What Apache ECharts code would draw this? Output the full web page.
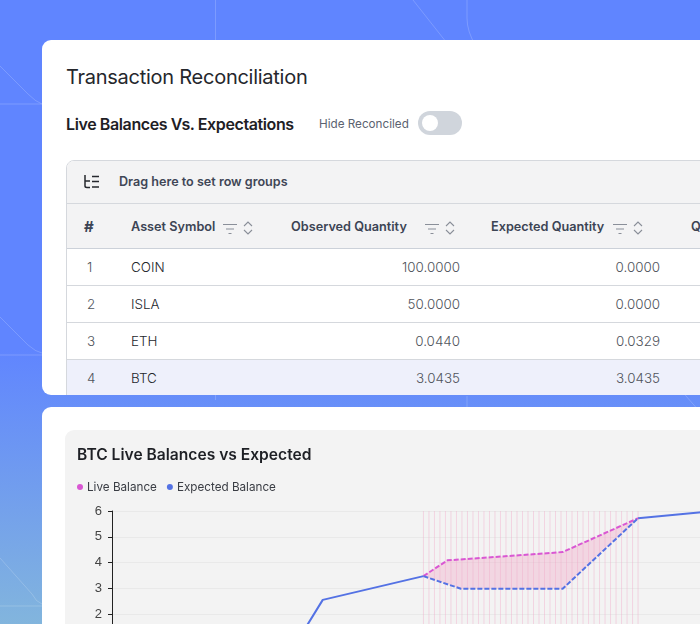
<!DOCTYPE html>
<html>
<head>
<meta charset="utf-8">
<script src="https://cdn.jsdelivr.net/npm/echarts@6/dist/echarts.min.js"></script>
<style>
  html, body { margin: 0; padding: 0; }
  body {
    width: 700px; height: 624px; position: relative; overflow: hidden;
    font-family: Inter, "Noto Sans", sans-serif;
    background: linear-gradient(180deg, #6085ff 0%, #6085ff 56%, #82b5dd 100%);
  }
  .deco { position: absolute; left: 0; top: 0; }
  .card { position: absolute; left: 42px; width: 720px; background: #fff; border-radius: 9px 0 0 9px; overflow: hidden; }
  #card1 { top: 40px; height: 355px; }
  #card2 { top: 407px; height: 300px; }
  .abs { position: absolute; white-space: nowrap; }
  #pageTitle { left: 24px; top: 24px; font-size: 20px; line-height: 26px; color: #25272c; letter-spacing: -0.26px; }
  #subTitle { left: 24px; top: 73px; font-size: 16px; line-height: 22px; font-weight: 600; color: #1e2025; letter-spacing: -0.39px; }
  #hideLabel { left: 277px; top: 76px; font-size: 11.7px; line-height: 16px; color: #5b6270; }
  #toggle { left: 376px; top: 71px; width: 44px; height: 24px; background: #d0d5dc; border-radius: 12px; }
  #toggle i { position: absolute; left: 4px; top: 4px; width: 16px; height: 16px; background: #fff; border-radius: 50%; }
  #grid { left: 24px; top: 120px; width: 720px; height: 260px; border: 1px solid #d5d8dd; border-radius: 8px 0 0 0; background: #fff; box-sizing: border-box; overflow: hidden; }
  #groupBar { position: absolute; left: 0; top: 0; right: 0; height: 42px; background: #f3f3f4; border-bottom: 1px solid #d5d8dd; }
  #headRow { position: absolute; left: 0; top: 43px; right: 0; height: 44px; background: #f3f3f4; border-bottom: 1px solid #ccd1d9; }
  .head { position: absolute; top: 15px; font-size: 12.7px; line-height: 16px; font-weight: 600; color: #3c4454; white-space: nowrap; }
  .row { position: absolute; left: 0; right: 0; height: 36px; border-bottom: 1px solid #d5d8dd; font-size: 13.4px; font-weight: 300; color: #50545c; }
  .row span { position: absolute; top: 10px; line-height: 16px; white-space: nowrap; }
  .row.sel { background: #eef0fb; }
  .filter, .sort { position: absolute; top: 15px; }
  #chartPanel { position: absolute; left: 23px; top: 23px; width: 700px; height: 280px; background: #f3f3f3; border-radius: 9px 0 0 0; }
  #chart { position: absolute; left: 65px; top: 430px; width: 720px; height: 260px; }
</style>
</head>
<body>
<svg class="deco" width="700" height="624" fill="none" stroke="#ffffff" stroke-opacity="0.18" stroke-width="1">
  <path d="M215.5 0V400"/>
  <path d="M413 0L454 52L686 396L700 412"/>
  <path d="M467 0V18Q467 32 476 46"/>
  <path d="M467 396V407"/>
  <path d="M0 66L28 94Q36 102 42 104"/>
  <path d="M0 104H42"/>
  <path d="M0 317L28 345Q36 352 42 353"/>
  <path d="M0 355H42"/>
  <path d="M0 558L32 594Q36 602 42 604"/>
  <path d="M0 606H42"/>
</svg>

<div class="card" id="card1">
  <div class="abs" id="pageTitle">Transaction Reconciliation</div>
  <div class="abs" id="subTitle">Live Balances Vs. Expectations</div>
  <div class="abs" id="hideLabel">Hide Reconciled</div>
  <div class="abs" id="toggle"><i></i></div>
  <div class="abs" id="grid">
    <div id="groupBar">
      <svg class="abs" style="left:16px;top:14px" width="18" height="14" fill="none" stroke="#26282e" stroke-width="1.5">
        <path d="M2 0V11Q2 12.5 4 12.5H7"/><path d="M2 6H7"/><path d="M9 1.5H16"/><path d="M9 6.5H16"/><path d="M9 12H16"/>
      </svg>
      <div class="abs" style="left:52px;top:13px;font-size:12.6px;line-height:16px;font-weight:600;color:#3f4656">Drag here to set row groups</div>
    </div>
    <div id="headRow"></div>
    <div id="rows"></div>
  </div>
</div>

<div class="card" id="card2">
  <div id="chartPanel"></div>
</div>
<div id="chart"></div>

<script>
// table
const headLabels = ["#", "Asset Symbol", "Observed Quantity", "Expected Quantity", "Q"];
const headLeft = [17, 64, 224, 424, 624];
const filterLeft = [null, 155, 357, 545, null];
const sortLeft = [null, 176, 378, 566, null];
const rowNums = ["1", "2", "3", "4"];
const rowSymbols = ["COIN", "ISLA", "ETH", "BTC"];
const rowObserved = ["100.0000", "50.0000", "0.0440", "3.0435"];
const rowExpected = ["0.0000", "0.0000", "0.0329", "3.0435"];

// chart, x is in days relative to the first reconciliation stripe
const stripeDays = [0, 1, 2, 3, 4, 5, 6, 7, 8, 9, 10, 11, 12, 13, 14, 15, 16, 17, 18, 19,
  20, 21, 22, 23, 24, 25, 26, 27, 28, 29, 30, 31, 32, 33, 34, 35, 36, 37, 38, 39];
const stripeTop = [6, 6, 6, 6, 6, 6, 6, 6, 6, 6, 6, 6, 6, 6, 6, 6, 6, 6, 6, 6,
  6, 6, 6, 6, 6, 6, 6, 6, 6, 6, 6, 6, 6, 6, 6, 6, 6, 6, 6, 6];
const expectedBefore = [[-56.6, 0], [-25.7, 0], [-18.3, 2.56], [0, 3.48]];
const expectedBand = [[0, 3.48], [6.8, 2.99], [25.3, 2.99], [39, 5.72]];
const expectedAfter = [[39, 5.72], [39.3, 5.74], [50.5, 5.95]];
const liveBand = [[0, 3.48], [4.36, 4.09], [25.3, 4.41], [39, 5.72]];

const headRow = document.getElementById("headRow");
const filterSvg = '<svg width="16" height="12" fill="none" stroke="#8a8f99" stroke-width="1.2"><path d="M1 1.5H15M4 6H12M6.5 10.5H9.5"/></svg>';
const sortSvg = '<svg width="10" height="14" fill="none" stroke="#8a8f99" stroke-width="1.1"><path d="M1 5L5 1L9 5M1 9L5 13L9 9"/></svg>';
headLabels.forEach((label, i) => {
  let html = `<div class="head" style="left:${headLeft[i]}px${i === 0 ? ";font-size:15px;font-weight:700" : ""}">${label}</div>`;
  if (filterLeft[i] !== null) {
    html += `<div class="filter" style="left:${filterLeft[i]}px">${filterSvg}</div>`;
    html += `<div class="sort" style="left:${sortLeft[i]}px">${sortSvg}</div>`;
  }
  headRow.insertAdjacentHTML("beforeend", html);
});

const rows = document.getElementById("rows");
rowNums.forEach((num, i) => {
  rows.insertAdjacentHTML("beforeend",
    `<div class="row${i === 3 ? " sel" : ""}" style="top:${88 + i * 37}px">` +
    `<span style="left:20px">${num}</span>` +
    `<span style="left:64px;color:#24262c">${rowSymbols[i]}</span>` +
    `<span style="right:${720 - 395}px">${rowObserved[i]}</span>` +
    `<span style="right:${720 - 595}px">${rowExpected[i]}</span>` +
    `</div>`);
});

const chart = echarts.init(document.getElementById("chart"), null, { renderer: "canvas" });

const LIVE = "#d957d3";
const EXPECTED = "#5472e4";
const font = "Inter, 'Noto Sans', sans-serif";

const option = {
  animation: false,
  title: {
    text: "BTC Live Balances vs Expected",
    left: 7,
    top: 12,
    textStyle: { fontFamily: font, fontSize: 15.6, fontWeight: 600, color: "#1e2025" },
  },
  legend: {
    left: 7,
    top: 46,
    itemWidth: 6,
    itemHeight: 6,
    itemGap: 10,
    icon: "circle",
    selectedMode: false,
    data: ["Live Balance", "Expected Balance"],
    textStyle: { fontFamily: font, fontSize: 11.7, color: "#3a3d44", padding: [0, 0, 0, -1] },
  },
  grid: { left: 47, top: 81, width: 641.6, height: 155 },
  xAxis: {
    type: "value",
    min: -56.6,
    max: 60,
    axisLine: { show: false },
    axisTick: { show: false },
    axisLabel: { show: false },
    splitLine: { show: false },
  },
  yAxis: {
    type: "value",
    min: 0,
    max: 6,
    interval: 1,
    axisLine: { show: true, onZero: false, lineStyle: { color: "#222222", width: 1 } },
    axisTick: { show: true, length: 4, lineStyle: { color: "#222222" } },
    axisLabel: { fontFamily: "'Liberation Sans', sans-serif", fontSize: 13, color: "#444444", margin: 10 },
    splitLine: { lineStyle: { color: "#e9e9e9", width: 1 } },
  },
  series: [
    {
      type: "bar",
      name: "stripes",
      barWidth: 1,
      data: stripeDays.map((d, i) => [d, stripeTop[i]]),
      itemStyle: { color: "rgba(240, 170, 200, 0.42)" },
      z: 1,
    },
    {
      type: "custom",
      name: "gap",
      z: 2,
      data: [0],
      renderItem: (params, api) => ({
        type: "polygon",
        shape: { points: liveBand.concat(expectedBand.slice().reverse()).map((p) => api.coord(p)) },
        style: { fill: "rgba(240, 170, 200, 0.4)" },
      }),
    },
    {
      type: "line", name: "Expected Balance", data: expectedBefore, showSymbol: false, z: 3,
      itemStyle: { color: EXPECTED }, lineStyle: { color: EXPECTED, width: 2 },
    },
    {
      type: "line", name: "Live Balance", data: liveBand, showSymbol: false, z: 4,
      itemStyle: { color: LIVE }, lineStyle: { color: LIVE, width: 2, type: [5, 2] },
    },
    {
      type: "line", name: "Expected Balance", data: expectedBand, showSymbol: false, z: 4,
      itemStyle: { color: EXPECTED }, lineStyle: { color: EXPECTED, width: 2, type: [5, 2] },
    },
    {
      type: "line", name: "Expected Balance", data: expectedAfter, showSymbol: false, z: 3,
      itemStyle: { color: EXPECTED }, lineStyle: { color: EXPECTED, width: 2 },
    },
  ],
};

chart.setOption(option);
</script>
</body>
</html>
